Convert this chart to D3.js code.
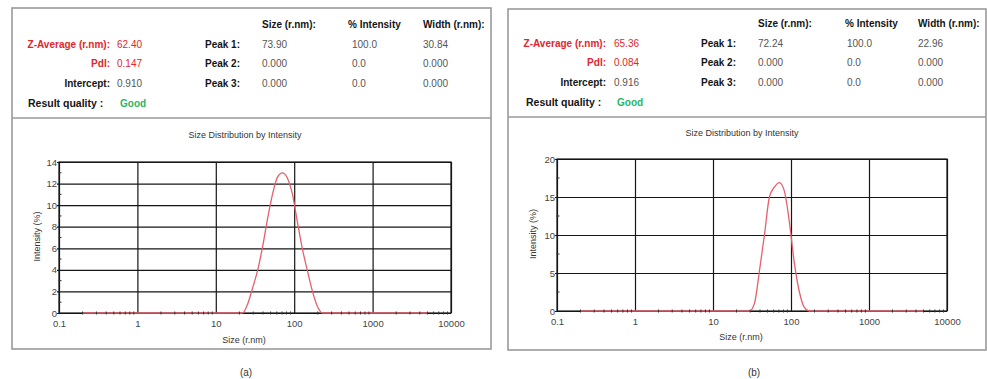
<!DOCTYPE html>
<html>
<head>
<meta charset="utf-8">
<script src="https://cdn.jsdelivr.net/npm/d3@7"></script>
<style>
  html, body { margin: 0; padding: 0; background: #fff; }
  svg { display: block; font-family: "Liberation Sans", Arial, sans-serif; }
</style>
</head>
<body>
<svg id="chart" width="987" height="379"></svg>
<script>
// Size classes (radius, nm) of the DLS size distribution
const sizeBins = [
  0.2, 0.2316, 0.2683, 0.3107, 0.3598, 0.4166, 0.4825, 0.5587, 0.6470, 0.7493,
  0.8677, 1.005, 1.164, 1.348, 1.561, 1.808, 2.093, 2.424, 2.807, 3.251,
  3.765, 4.360, 5.049, 5.848, 6.772, 7.843, 9.082, 10.52, 12.18, 14.11,
  16.34, 18.92, 21.91, 25.38, 29.39, 34.03, 39.41, 45.64, 52.85, 61.21,
  70.88, 82.09, 95.06, 110.1, 127.5, 147.7, 171.0, 198.0, 229.3, 265.6,
  307.6, 356.2, 412.5, 477.7, 553.2, 640.6, 741.9, 859.2, 995.0, 1152,
  1334, 1545, 1789, 2072, 2400, 2779, 3218, 3727, 4316, 5000
];

// Intensity (%) per size class, sample (a)
const intensityA = [
  0, 0, 0, 0, 0, 0, 0, 0, 0, 0,
  0, 0, 0, 0, 0, 0, 0, 0, 0, 0,
  0, 0, 0, 0, 0, 0, 0, 0, 0, 0,
  0, 0, 0, 0.8, 2.3, 3.9, 6.1, 8.7, 11.0, 12.6,
  13.0, 12.5, 11.0, 8.4, 5.9, 3.9, 2.0, 0.6, 0, 0,
  0, 0, 0, 0, 0, 0, 0, 0, 0, 0,
  0, 0, 0, 0, 0, 0, 0, 0, 0, 0
];

// Intensity (%) per size class, sample (b)
const intensityB = [
  0, 0, 0, 0, 0, 0, 0, 0, 0, 0,
  0, 0, 0, 0, 0, 0, 0, 0, 0, 0,
  0, 0, 0, 0, 0, 0, 0, 0, 0, 0,
  0, 0, 0, 0, 0, 1.0, 5.3, 10.0, 15.0, 16.3,
  16.9, 15.8, 11.8, 6.4, 2.6, 0.5, 0, 0, 0, 0,
  0, 0, 0, 0, 0, 0, 0, 0, 0, 0,
  0, 0, 0, 0, 0, 0, 0, 0, 0, 0
];

const xTickValues = [0.1, 1, 10, 100, 1000, 10000];
const xTickLabels = ["0.1", "1", "10", "100", "1000", "10000"];
const yTicksA = [0, 2, 4, 6, 8, 10, 12, 14];
const yTicksB = [0, 5, 10, 15, 20];

const captions = ["(a)", "(b)"];
const zAverage = ["62.40", "65.36"];
const pdi = ["0.147", "0.084"];
const intercept = ["0.910", "0.916"];
const quality = ["Good", "Good"];
const peakNames = ["Peak 1:", "Peak 2:", "Peak 3:"];
const columnNames = ["Size (r.nm):", "% Intensity", "Width (r.nm):"];
const peakSizeA = ["73.90", "0.000", "0.000"];
const peakIntA = ["100.0", "0.0", "0.0"];
const peakWidthA = ["30.84", "0.000", "0.000"];
const peakSizeB = ["72.24", "0.000", "0.000"];
const peakIntB = ["100.0", "0.0", "0.0"];
const peakWidthB = ["22.96", "0.000", "0.000"];

const chartTitle = "Size Distribution by Intensity";
const xTitle = "Size (r.nm)";
const yTitle = "Intensity (%)";

// Layout of the two report panels
const panels = [
  {
    intensity: intensityA, yTicks: yTicksA, yMax: 14, minorStep: 1,
    peaks: [peakSizeA, peakIntA, peakWidthA],
    box: { x: 12, y: 8, w: 479, h: 341 }, divider: 118,
    plot: { l: 59, r: 451, t: 162, b: 313 },
    titleY: 135, yLabelX: 37, xLabelY: 340, captionX: 246,
    labelEnd: 110, valueStart: 117, rqStart: 28, goodStart: 120,
    peakEnd: 240, cols: [262, 348, 423], colVals: [262, 352, 423],
    rows: [44, 63, 83, 103], headY: 24
  },
  {
    intensity: intensityB, yTicks: yTicksB, yMax: 20, minorStep: 2.5,
    peaks: [peakSizeB, peakIntB, peakWidthB],
    box: { x: 508, y: 9, w: 478, h: 341 }, divider: 117,
    plot: { l: 557, r: 947, t: 159, b: 311 },
    titleY: 133, yLabelX: 533, xLabelY: 337, captionX: 754,
    labelEnd: 606, valueStart: 614, rqStart: 526, goodStart: 617,
    peakEnd: 736, cols: [758, 845, 918], colVals: [758, 847, 918],
    rows: [43, 62, 82, 102], headY: 23
  }
];

const RED = "#e0262c";
const LABEL = "#141414";
const VALUE = "#555";
const GREEN = "#27b565";
const GRID = "#161616";
const CURVE = "#e4606c";
const BORDER = "#9a9a9a";

const svg = d3.select("#chart");

panels.forEach((p, i) => {
  const g = svg.append("g");

  // panel frame and header divider
  g.append("rect")
    .attr("x", p.box.x).attr("y", p.box.y)
    .attr("width", p.box.w).attr("height", p.box.h)
    .attr("fill", "none").attr("stroke", BORDER).attr("stroke-width", 1.6);
  g.append("line")
    .attr("x1", p.box.x).attr("x2", p.box.x + p.box.w)
    .attr("y1", p.divider).attr("y2", p.divider)
    .attr("stroke", BORDER).attr("stroke-width", 1.6);

  // header: summary block
  const hdr = g.append("g").attr("font-size", 10);
  const baseline = c => c + 3.6;

  const leftRows = [
    { label: "Z-Average (r.nm):", value: zAverage[i], color: RED, vcolor: RED },
    { label: "PdI:", value: pdi[i], color: RED, vcolor: RED },
    { label: "Intercept:", value: intercept[i], color: LABEL, vcolor: VALUE }
  ];
  leftRows.forEach((r, k) => {
    hdr.append("text")
      .attr("x", p.labelEnd).attr("y", baseline(p.rows[k]))
      .attr("text-anchor", "end").attr("font-weight", "bold")
      .attr("fill", r.color).text(r.label);
    hdr.append("text")
      .attr("x", p.valueStart).attr("y", baseline(p.rows[k]))
      .attr("fill", r.vcolor).text(r.value);
  });
  hdr.append("text")
    .attr("x", p.rqStart).attr("y", baseline(p.rows[3]))
    .attr("font-weight", "bold").attr("font-size", 10.5)
    .attr("fill", LABEL).text("Result quality :");
  hdr.append("text")
    .attr("x", p.goodStart).attr("y", baseline(p.rows[3]))
    .attr("font-weight", "bold").attr("fill", GREEN).text(quality[i]);

  // header: peak table
  columnNames.forEach((c, k) => {
    hdr.append("text")
      .attr("x", p.cols[k]).attr("y", baseline(p.headY))
      .attr("font-weight", "bold").attr("fill", LABEL).text(c);
  });
  peakNames.forEach((n, k) => {
    hdr.append("text")
      .attr("x", p.peakEnd).attr("y", baseline(p.rows[k]))
      .attr("text-anchor", "end").attr("font-weight", "bold")
      .attr("fill", LABEL).text(n);
    p.peaks.forEach((col, c) => {
      hdr.append("text")
        .attr("x", p.colVals[c]).attr("y", baseline(p.rows[k]))
        .attr("fill", VALUE).text(col[k]);
    });
  });

  // plot scales
  const x = d3.scaleLog().domain([0.1, 10000]).range([p.plot.l, p.plot.r]);
  const y = d3.scaleLinear().domain([0, p.yMax]).range([p.plot.b, p.plot.t]);
  const w = p.plot.r - p.plot.l;
  const h = p.plot.b - p.plot.t;

  // chart title
  g.append("text")
    .attr("x", (p.plot.l + p.plot.r) / 2 - 10).attr("y", p.titleY + 3.2)
    .attr("text-anchor", "middle").attr("font-size", 9)
    .attr("fill", "#333").text(chartTitle);

  // x axis with vertical gridlines
  const xAxis = g.append("g")
    .attr("transform", `translate(0,${p.plot.b})`)
    .call(d3.axisBottom(x)
      .tickValues(xTickValues)
      .tickFormat((d, k) => xTickLabels[k])
      .tickSize(-h).tickPadding(7));
  xAxis.select(".domain").remove();
  xAxis.selectAll("line").attr("stroke", GRID).attr("stroke-width", 1.2);
  xAxis.selectAll("text").attr("font-size", 9.5).attr("fill", "#444")
    .attr("font-family", "Liberation Sans, Arial, sans-serif");

  // y axis with horizontal gridlines
  const yAxis = g.append("g")
    .attr("transform", `translate(${p.plot.l},0)`)
    .call(d3.axisLeft(y)
      .tickValues(p.yTicks)
      .tickSize(-w).tickPadding(2));
  yAxis.select(".domain").remove();
  yAxis.selectAll("line").attr("stroke", GRID).attr("stroke-width", 1.2)
    .attr("x1", -2);
  yAxis.selectAll("text").attr("font-size", 9.5).attr("fill", "#444")
    .attr("font-family", "Liberation Sans, Arial, sans-serif");

  // plot frame
  g.append("rect")
    .attr("x", p.plot.l).attr("y", p.plot.t)
    .attr("width", w).attr("height", h)
    .attr("fill", "none").attr("stroke", GRID).attr("stroke-width", 1.2);

  // axis titles
  g.append("text")
    .attr("transform", `translate(${p.yLabelX},${(p.plot.t + p.plot.b) / 2 - 1}) rotate(-90)`)
    .attr("text-anchor", "middle").attr("dy", "0.35em")
    .attr("font-size", 9).attr("fill", "#333").text(yTitle);
  g.append("text")
    .attr("x", (p.plot.l + p.plot.r) / 2 - 11).attr("y", p.xLabelY + 3.2)
    .attr("text-anchor", "middle").attr("font-size", 9)
    .attr("fill", "#333").text(xTitle);

  // intensity distribution curve
  const line = d3.line()
    .x((d, k) => x(sizeBins[k]))
    .y(d => y(d))
    .curve(d3.curveMonotoneX);
  g.append("path")
    .datum(p.intensity)
    .attr("d", line)
    .attr("fill", "none").attr("stroke", CURVE).attr("stroke-width", 1.3);

  // minor ticks on both axes
  const xMinor = x.ticks().filter(v => !xTickValues.some(t => Math.abs(t - v) / t < 1e-6));
  g.append("g").selectAll("line").data(xMinor).join("line")
    .attr("x1", d => x(d)).attr("x2", d => x(d))
    .attr("y1", p.plot.b - 1.5).attr("y2", p.plot.b + 1.5)
    .attr("stroke", "#333").attr("stroke-width", 1);
  const yMinor = d3.range(p.minorStep, p.yMax, p.minorStep * 2);
  g.append("g").selectAll("line").data(yMinor).join("line")
    .attr("x1", p.plot.l - 0.5).attr("x2", p.plot.l + 2.5)
    .attr("y1", d => y(d)).attr("y2", d => y(d))
    .attr("stroke", "#333").attr("stroke-width", 1);

  // caption
  g.append("text")
    .attr("x", p.captionX).attr("y", 375.5)
    .attr("text-anchor", "middle").attr("font-size", 10)
    .attr("fill", "#333").text(captions[i]);
});
</script>
</body>
</html>
